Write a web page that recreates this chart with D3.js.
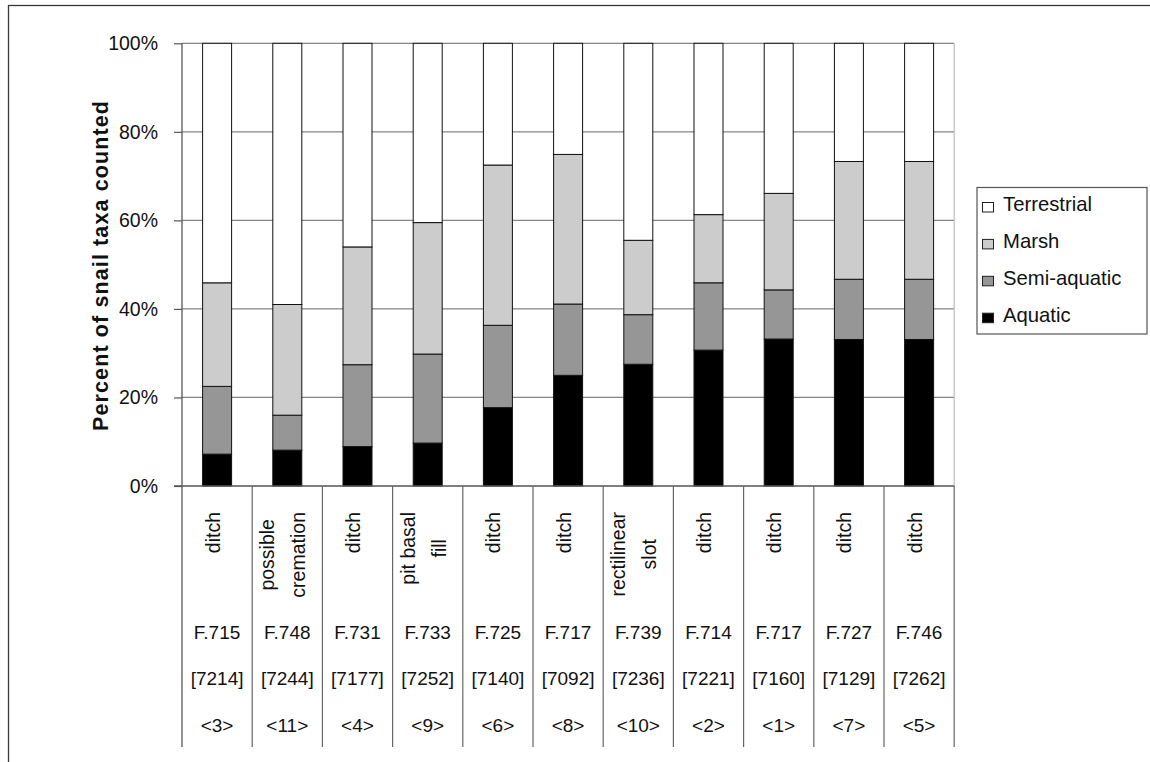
<!DOCTYPE html>
<html>
<head>
<meta charset="utf-8">
<script src="https://cdn.jsdelivr.net/npm/d3@7"></script>
<style>
  html, body { margin: 0; padding: 0; background: #fff; }
  svg { display: block; font-family: "Liberation Sans", Arial, sans-serif; }
</style>
</head>
<body>
<svg id="chart" width="1150" height="762"></svg>
<script>
// Sample descriptions (wrapped lines), feature, context and sample numbers
const featureTypes = [
  ["ditch"], ["possible", "cremation"], ["ditch"], ["pit basal", "fill"], ["ditch"], ["ditch"],
  ["rectilinear", "slot"], ["ditch"], ["ditch"], ["ditch"], ["ditch"]
];
const features = ["F.715", "F.748", "F.731", "F.733", "F.725", "F.717", "F.739", "F.714", "F.717", "F.727", "F.746"];
const contexts = ["[7214]", "[7244]", "[7177]", "[7252]", "[7140]", "[7092]", "[7236]", "[7221]", "[7160]", "[7129]", "[7262]"];
const samples = ["<3>", "<11>", "<4>", "<9>", "<6>", "<8>", "<10>", "<2>", "<1>", "<7>", "<5>"];

// Percent of snail taxa counted, per ecological group
const aquatic     = [7.2, 8.1, 8.9, 9.7, 17.7, 25.0, 27.5, 30.7, 33.2, 33.1, 33.1];
const semiAquatic = [15.3, 7.9, 18.5, 20.1, 18.6, 16.1, 11.2, 15.2, 11.1, 13.6, 13.6];
const marsh       = [23.4, 25.0, 26.6, 29.7, 36.2, 33.8, 16.8, 15.4, 21.8, 26.6, 26.6];
const terrestrial = [54.1, 59.0, 46.0, 40.5, 27.5, 25.1, 44.5, 38.7, 33.9, 26.7, 26.7];

const seriesNames = ["Aquatic", "Semi-aquatic", "Marsh", "Terrestrial"];
const seriesColors = ["#000000", "#969696", "#cccccc", "#ffffff"];
const yTicks = [0, 20, 40, 60, 80, 100];

(function draw() {
  const rows = features.map((f, i) => ({
    i,
    "Aquatic": aquatic[i],
    "Semi-aquatic": semiAquatic[i],
    "Marsh": marsh[i],
    "Terrestrial": terrestrial[i]
  }));

  const svg = d3.select("#chart");
  const plotLeft = 182, plotRight = 954.2, plotTop = 43.3, plotBottom = 486, tableBottom = 747;
  const n = features.length;

  const x = d3.scaleBand().domain(d3.range(n)).range([plotLeft, plotRight])
    .paddingInner(0.587).paddingOuter(0.2935);
  const col = d3.scaleLinear().domain([0, n]).range([plotLeft, plotRight]);
  const y = d3.scaleLinear().domain([0, 100]).range([plotBottom, plotTop]);
  const color = d3.scaleOrdinal().domain(seriesNames).range(seriesColors);

  // outer frame
  svg.append("rect").attr("x", 8.5).attr("y", 5.5).attr("width", 1200).attr("height", 800)
    .attr("fill", "none").attr("stroke", "#3a3a3a").attr("stroke-width", 1.3);

  // horizontal gridlines
  svg.append("g")
    .selectAll("line").data(yTicks.filter(d => d > 0)).join("line")
    .attr("x1", plotLeft).attr("x2", plotRight)
    .attr("y1", d => y(d)).attr("y2", d => y(d))
    .attr("stroke", "#858585").attr("stroke-width", 1.3);

  // plot right edge
  svg.append("line").attr("x1", plotRight).attr("x2", plotRight).attr("y1", plotTop).attr("y2", plotBottom)
    .attr("stroke", "#bdbdbd").attr("stroke-width", 1.2);

  // stacked bars
  const stacked = d3.stack().keys(seriesNames)(rows);
  svg.append("g")
    .selectAll("g").data(stacked).join("g")
    .attr("fill", d => color(d.key))
    .selectAll("rect").data(d => d).join("rect")
    .attr("x", d => x(d.data.i))
    .attr("width", x.bandwidth())
    .attr("y", d => y(d[1]))
    .attr("height", d => y(d[0]) - y(d[1]))
    .attr("stroke", "#111").attr("stroke-width", 1);

  // y axis
  const yAxis = svg.append("g").attr("transform", `translate(${plotLeft},0)`)
    .call(d3.axisLeft(y).tickValues(yTicks).tickFormat(d => d + "%").tickSize(8).tickPadding(16));
  yAxis.select(".domain").remove();
  yAxis.selectAll(".tick line").attr("stroke", "#555").attr("stroke-width", 1.2);
  yAxis.selectAll(".tick text").attr("font-size", 19.5).attr("fill", "#111")
    .attr("font-family", "'Liberation Sans', Arial, sans-serif");

  // axis lines (y axis continues down through the label table)
  svg.append("line").attr("x1", plotLeft).attr("x2", plotLeft).attr("y1", plotTop).attr("y2", tableBottom)
    .attr("stroke", "#555").attr("stroke-width", 1.3);
  svg.append("line").attr("x1", plotLeft - 8).attr("x2", plotRight).attr("y1", plotBottom).attr("y2", plotBottom)
    .attr("stroke", "#555").attr("stroke-width", 1.3);

  // label table column dividers
  svg.append("g").selectAll("line").data(d3.range(1, n + 1)).join("line")
    .attr("x1", d => col(d)).attr("x2", d => col(d))
    .attr("y1", plotBottom).attr("y2", tableBottom)
    .attr("stroke", "#666").attr("stroke-width", 1.2);

  // rotated sample descriptions
  const lineGap = 30.7;
  const descG = svg.append("g");
  featureTypes.forEach((lines, i) => {
    const cx = col(i + 0.5);
    const g = descG.append("g");
    const items = lines.map((t, k) => ({
      bx: cx + 2.5 + (k - (lines.length - 1) / 2) * lineGap,
      node: g.append("text").text(t)
        .attr("font-size", 19.5).attr("fill", "#111")
        .attr("text-anchor", "middle")
    }));
    const maxLen = d3.max(items, it => it.node.node().getComputedTextLength());
    const cy = 512 + maxLen / 2;
    items.forEach(it => it.node.attr("transform", `translate(${it.bx},${cy}) rotate(-90)`));
  });

  // feature / context / sample rows
  const rowDefs = [[features, 639], [contexts, 685], [samples, 732]];
  rowDefs.forEach(([vals, by]) => {
    svg.append("g").selectAll("text").data(vals).join("text")
      .attr("x", (d, i) => col(i + 0.5))
      .attr("y", by)
      .attr("text-anchor", "middle")
      .attr("font-size", 19).attr("fill", "#111")
      .text(d => d);
  });

  // y axis title
  svg.append("text")
    .attr("transform", "translate(107.5,266) rotate(-90)")
    .attr("text-anchor", "middle")
    .attr("font-size", 21.5).attr("font-weight", "bold").attr("fill", "#111")
    .attr("textLength", 330).attr("lengthAdjust", "spacing")
    .text("Percent of snail taxa counted");

  // legend
  const legendOrder = ["Terrestrial", "Marsh", "Semi-aquatic", "Aquatic"];
  svg.append("rect").attr("x", 977).attr("y", 187.5).attr("width", 170).attr("height", 146.5)
    .attr("fill", "#fff").attr("stroke", "#555").attr("stroke-width", 1.2);
  const leg = svg.append("g").selectAll("g").data(legendOrder).join("g")
    .attr("transform", (d, k) => `translate(0,${211 + k * 36.9})`);
  leg.append("rect").attr("x", 982.5).attr("y", -8.5).attr("width", 11).attr("height", 9.5)
    .attr("fill", d => color(d)).attr("stroke", "#222").attr("stroke-width", 1);
  leg.append("text").attr("x", 1003).attr("y", 0)
    .attr("font-size", 20.3).attr("fill", "#111").text(d => d);
})();
</script>
</body>
</html>
